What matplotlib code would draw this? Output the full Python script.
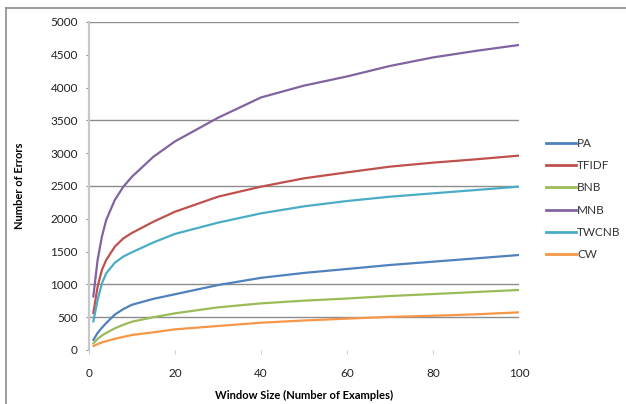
import matplotlib
matplotlib.use("Agg")
import matplotlib.pyplot as plt
from matplotlib.lines import Line2D

plt.rcParams['font.family'] = ['Lato', 'DejaVu Sans']

window = [1, 2, 3, 4, 6, 8, 10, 15, 20, 30, 40, 50, 60, 70, 80, 90, 100]
pa    = [152, 260, 340, 410, 540, 625, 690, 780, 850, 990, 1100, 1175, 1235, 1296, 1346, 1397, 1448]
tfidf = [559, 965, 1220, 1372, 1575, 1702, 1785, 1956, 2108, 2337, 2490, 2617, 2708, 2795, 2856, 2907, 2963]
bnb   = [100, 170, 220, 260, 330, 385, 432, 500, 559, 650, 711, 752, 785, 823, 853, 884, 915]
mnb   = [812, 1372, 1728, 1982, 2287, 2490, 2642, 2947, 3180, 3540, 3850, 4030, 4170, 4330, 4460, 4560, 4650]
twcnb = [432, 762, 1016, 1169, 1330, 1425, 1490, 1640, 1770, 1941, 2083, 2190, 2271, 2337, 2388, 2439, 2490]
cw    = [60, 90, 115, 135, 170, 200, 229, 270, 315, 366, 416, 450, 478, 505, 522, 544, 574]

series = [("PA", pa, "#4F81BD"), ("TFIDF", tfidf, "#C0504D"), ("BNB", bnb, "#9BBB59"),
          ("MNB", mnb, "#8064A2"), ("TWCNB", twcnb, "#4BACC6"), ("CW", cw, "#F79646")]

y_ticks = [0, 500, 1000, 1500, 2000, 2500, 3000, 3500, 4000, 4500, 5000]
x_ticks = [0, 20, 40, 60, 80, 100]
grid_vals = [500, 1000, 2500, 3500, 5000]

W, H = 626, 404
fig = plt.figure(figsize=(W / 100, H / 100), dpi=100)
L, R, T, B = 89, 519, 22, 350
ax = fig.add_axes([L / W, 1 - B / H, (R - L) / W, (B - T) / H])

for gv in grid_vals:
    ax.axhline(gv, color="#8C8C8C", lw=1.0, zorder=1)

for name, vals, col in series:
    ax.plot(window, vals, color=col, lw=1.6, label=name, zorder=3, solid_capstyle='round')

ax.set_xlim(0, 100)
ax.set_ylim(0, 5000)
ax.set_xticks(x_ticks)
ax.set_yticks(y_ticks)
for s in ["top", "right", "bottom"]:
    ax.spines[s].set_visible(False)
ax.spines["left"].set_color("#C8C8C8")
ax.spines["left"].set_linewidth(1.6)
ax.tick_params(axis="y", length=2, color="#8C8C8C", labelsize=8.5, pad=6, labelcolor="#222222")
ax.tick_params(axis="x", length=3, color="#D0D0D0", labelsize=8.5, pad=10, labelcolor="#222222")

ax.set_xlabel("Window Size (Number of Examples)", fontsize=8, fontweight="bold", labelpad=8)
ax.set_ylabel("Number of Errors", fontsize=8, fontweight="bold", labelpad=18)

handles = [Line2D([0], [0], color=c, lw=2) for _, _, c in series]
leg = fig.legend(handles, [n for n, _, _ in series], loc="upper left",
                 bbox_to_anchor=(546 / W, 1 - 138 / H), frameon=False,
                 fontsize=8.5, handlelength=2.5, handletextpad=0.15,
                 labelspacing=0.95, borderpad=0, borderaxespad=0)
for t in leg.get_texts():
    t.set_color("#333333")

# outer chart border (top and left visible)
fig.add_artist(Line2D([6 / W, 6 / W], [0, 1 - 8 / H], transform=fig.transFigure, color="#8C8C8C", lw=1.2))
fig.add_artist(Line2D([6 / W, 1], [1 - 8 / H, 1 - 8 / H], transform=fig.transFigure, color="#8C8C8C", lw=1.2))

fig.savefig("out.png", dpi=100)
